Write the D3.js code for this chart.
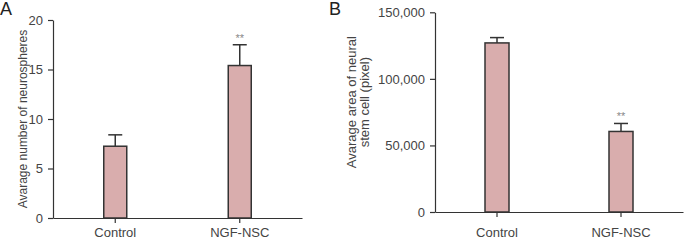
<!DOCTYPE html>
<html>
<head>
<meta charset="utf-8">
<script src="https://cdn.jsdelivr.net/npm/d3@7"></script>
<style>
  body { margin: 0; background: #fff; }
  svg { font-family: "Liberation Sans", Arial, sans-serif; }
  .axis path, .axis line { stroke: #333; stroke-width: 1.2; }
  .axis text { fill: #444; font-size: 13px; }
</style>
</head>
<body>
<svg id="chart" width="687" height="240"></svg>
<script>
// groups shared by both panels
const GROUPS = ['Control', 'NGF-NSC'];

// panel A: neurosphere counts
const countMean = [7.25, 15.4];
const countErr  = [1.15, 2.1];
const countTicks = [0, 5, 10, 15, 20];

// panel B: neural stem cell area (pixel)
const areaMean = [127000, 60500];
const areaErr  = [4000, 6000];
const areaTicks = [0, 50000, 100000, 150000];

const stars = ['', '**'];

const svg = d3.select('#chart');

function panel(opts) {
    const g = svg.append('g');
    const x = d3.scaleBand().domain(GROUPS).range([opts.x0, opts.x1]).paddingInner(0).paddingOuter(0);
    const y = d3.scaleLinear().domain(opts.domain).range([opts.y0, opts.y1]);
    const bw = opts.bw, cap = 14;

    g.append('g')
        .attr('class', 'axis')
        .attr('transform', `translate(${opts.x0},0)`)
        .call(d3.axisLeft(y).tickValues(opts.ticks).tickSize(5).tickSizeOuter(0).tickFormat(opts.fmt))
        .call(a => a.selectAll('text').attr('dx', '-2'));

    g.append('g')
        .attr('class', 'axis')
        .attr('transform', `translate(0,${opts.y0})`)
        .call(d3.axisBottom(x).tickSize(5).tickSizeOuter(0))
        .call(a => a.selectAll('text').attr('dy', opts.labelDy));

    const cx = d => x(d) + x.bandwidth() / 2;

    // error bars (upper only)
    g.selectAll('.err').data(GROUPS).join('line')
        .attr('x1', cx).attr('x2', cx)
        .attr('y1', (d, i) => y(opts.mean[i]))
        .attr('y2', (d, i) => y(opts.mean[i] + opts.err[i]))
        .attr('stroke', '#333').attr('stroke-width', 1.5);
    g.selectAll('.cap').data(GROUPS).join('line')
        .attr('x1', d => cx(d) - cap / 2).attr('x2', d => cx(d) + cap / 2)
        .attr('y1', (d, i) => y(opts.mean[i] + opts.err[i]))
        .attr('y2', (d, i) => y(opts.mean[i] + opts.err[i]))
        .attr('stroke', '#333').attr('stroke-width', 1.5);

    g.selectAll('.bar').data(GROUPS).join('rect')
        .attr('x', d => cx(d) - bw / 2)
        .attr('width', bw)
        .attr('y', (d, i) => y(opts.mean[i]))
        .attr('height', (d, i) => y(0) - y(opts.mean[i]))
        .attr('fill', '#d9adad')
        .attr('stroke', '#333').attr('stroke-width', 1.5);

    g.selectAll('.star').data(GROUPS).join('text')
        .attr('x', cx)
        .attr('y', (d, i) => y(opts.mean[i] + opts.err[i]) - 3)
        .attr('text-anchor', 'middle')
        .attr('fill', '#888')
        .attr('font-size', 11)
        .text((d, i) => stars[i]);

    // y title
    const mid = (opts.y0 + opts.y1) / 2;
    const t = g.append('text')
        .attr('transform', `translate(${opts.titleX},${mid + opts.titleDy}) rotate(-90)`)
        .attr('text-anchor', 'middle')
        .attr('fill', '#444')
        .attr('font-size', opts.titleSize);
    opts.title.forEach((line, i) => {
        t.append('tspan').attr('x', 0).attr('dy', i === 0 ? 0 : '0.98em').text(line);
    });

    svg.append('text')
        .attr('x', opts.labelX).attr('y', 15)
        .attr('font-size', 18)
        .attr('fill', '#222')
        .text(opts.label);
}

panel({
    x0: 53, x1: 302, y0: 218, y1: 20, bw: 23, labelDy: '0.82em',
    domain: [0, 20], ticks: countTicks, fmt: d3.format('d'),
    mean: countMean, err: countErr,
    title: ['Avarage number of neurospheres'], titleX: 27, titleDy: 0, titleSize: 12,
    label: 'A', labelX: 0
});

panel({
    x0: 435, x1: 683, y0: 212, y1: 12.3, bw: 24, labelDy: '1.3em',
    domain: [0, 150000], ticks: areaTicks, fmt: d3.format(','),
    mean: areaMean, err: areaErr,
    title: ['Avarage area of neural', 'stem cell (pixel)'], titleX: 356, titleDy: -10, titleSize: 13,
    label: 'B', labelX: 329
});
</script>
</body>
</html>
